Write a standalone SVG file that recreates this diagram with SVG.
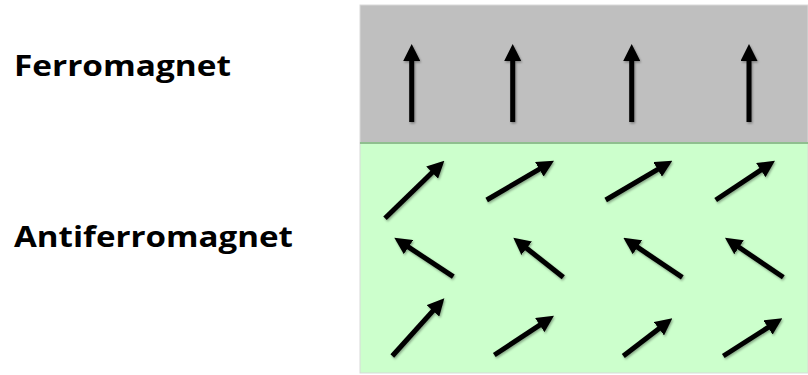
<svg xmlns="http://www.w3.org/2000/svg" width="808" height="375" viewBox="0 0 808 375">
  <defs>
    <marker id="head" markerUnits="userSpaceOnUse" markerWidth="17" markerHeight="17" refX="9" refY="8.5" orient="auto">
      <path d="M0,0 L17,8.5 L0,17 Z" fill="#000"/>
    </marker>
    <filter id="shadow" filterUnits="userSpaceOnUse" x="0" y="0" width="808" height="375">
      <feDropShadow dx="1" dy="1.5" stdDeviation="1" flood-color="#000" flood-opacity="0.35"/>
    </filter>
  </defs>
  <style>
    .label { font-family: "Open Sans", "Liberation Sans", Arial, sans-serif; font-weight: bold; font-size: 28px; fill: #000; }
    .spin { stroke: #000; stroke-width: 5; fill: none; marker-end: url(#head); }
  </style>
  <rect width="808" height="375" fill="#ffffff"/>

  <g id="ferromagnet">
    <rect x="360" y="5" width="448" height="138" fill="#bfbfbf" stroke="#d9d9d9" stroke-width="1"/>
    <text class="label" x="14" y="76" textLength="217" lengthAdjust="spacingAndGlyphs">Ferromagnet</text>
  </g>

  <g id="antiferromagnet">
    <rect x="360" y="143" width="448" height="230" fill="#ccffcc" stroke="#d9d9d9" stroke-width="1"/>
    <line x1="360" y1="143" x2="808" y2="143" stroke="#8fbf8f" stroke-width="2"/>
    <text class="label" x="14" y="247" textLength="279" lengthAdjust="spacingAndGlyphs">Antiferromagnet</text>
  </g>

  <g id="spins" filter="url(#shadow)">
    <line class="spin" x1="411.7" y1="122" x2="411.7" y2="52"/>
    <line class="spin" x1="512.7" y1="122" x2="512.7" y2="52"/>
    <line class="spin" x1="631.7" y1="122" x2="631.7" y2="52"/>
    <line class="spin" x1="749" y1="122" x2="749" y2="52"/>

    <line class="spin" x1="385" y1="218.3" x2="438.6" y2="166.3"/>
    <line class="spin" x1="486.7" y1="200" x2="547.1" y2="164.7"/>
    <line class="spin" x1="605.7" y1="200" x2="665.4" y2="164.8"/>
    <line class="spin" x1="715.7" y1="200" x2="768.3" y2="165.1"/>

    <line class="spin" x1="453.3" y1="276.7" x2="401.0" y2="242.1"/>
    <line class="spin" x1="563.3" y1="277.3" x2="519.6" y2="242.7"/>
    <line class="spin" x1="682.3" y1="277.3" x2="630.0" y2="242.2"/>
    <line class="spin" x1="783.3" y1="277.3" x2="731.6" y2="242.2"/>

    <line class="spin" x1="392.3" y1="356" x2="439.0" y2="304.2"/>
    <line class="spin" x1="494.3" y1="355" x2="547.3" y2="320.1"/>
    <line class="spin" x1="623.3" y1="356" x2="666.0" y2="323.2"/>
    <line class="spin" x1="723.3" y1="356" x2="775.6" y2="322.6"/>
  </g>
</svg>
